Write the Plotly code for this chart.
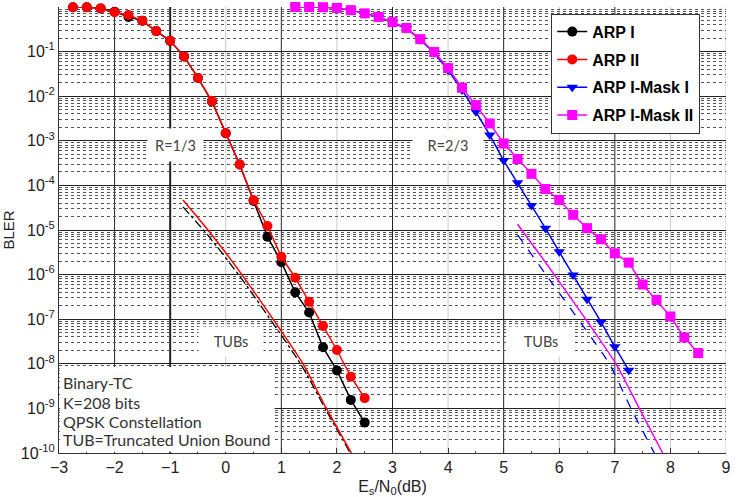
import plotly.graph_objects as go

# ---------------- data ----------------
x_arp = [-2.75, -2.5, -2.25, -2.0, -1.75, -1.5, -1.25, -1.0, -0.75, -0.5, -0.25,
         0.0, 0.25, 0.5, 0.75, 1.0, 1.25, 1.5, 1.75, 2.0, 2.25, 2.5]
bler_arp1 = [0.985, 0.985, 0.93, 0.785, 0.60, 0.49, 0.288, 0.174, 0.078, 0.0257, 7.6e-3,
             1.48e-3, 2.95e-4, 4.47e-5, 7.1e-6, 1.9e-6, 4.0e-7, 1.41e-7, 2.34e-8, 7.1e-9,
             1.55e-9, 4.8e-10]
bler_arp2 = [0.985, 0.985, 0.93, 0.76, 0.66, 0.49, 0.288, 0.174, 0.078, 0.0257, 7.8e-3,
             1.48e-3, 2.95e-4, 4.68e-5, 1.23e-5, 2.51e-6, 8.5e-7, 2.45e-7, 7.08e-8, 2.04e-8,
             5.13e-9, 1.70e-9]

x_mask2 = [1.25, 1.5, 1.75, 2.0, 2.25, 2.5, 2.75, 3.0, 3.25, 3.5, 3.75, 4.0, 4.25, 4.5,
           4.75, 5.0, 5.25, 5.5, 5.75, 6.0, 6.25, 6.5, 6.75, 7.0, 7.25, 7.5, 7.75, 8.0,
           8.25, 8.5]
bler_mask2 = [1.0, 1.0, 0.99, 0.955, 0.85, 0.72, 0.60, 0.457, 0.339, 0.19, 0.098, 0.0427,
              0.0155, 6.3e-3, 2.45e-3, 8.7e-4, 3.9e-4, 1.82e-4, 8.3e-5, 4.7e-5, 2.19e-5,
              1.1e-5, 6.2e-6, 3.0e-6, 1.86e-6, 6.0e-7, 2.7e-7, 1.15e-7, 3.9e-8, 1.74e-8]

x_mask1 = [1.25, 1.5, 1.75, 2.0, 2.25, 2.5, 2.75, 3.0, 3.25, 3.5, 3.75, 4.0, 4.25, 4.5,
           4.75, 5.0, 5.25, 5.5, 5.75, 6.0, 6.25, 6.5, 6.75, 7.0, 7.25]
bler_mask1 = [1.0, 1.0, 0.99, 0.955, 0.85, 0.72, 0.60, 0.45, 0.33, 0.185, 0.093, 0.038,
              0.0138, 4.47e-3, 1.35e-3, 3.6e-4, 1.15e-4, 3.55e-5, 1.1e-5, 3.24e-6, 9.8e-7,
              2.8e-7, 8.7e-8, 2.4e-8, 7.2e-9]

# truncated union bounds
x_tub_arp2 = [-0.77, -0.32, 0.29, 1.39, 1.81, 2.26]
y_tub_arp2 = [4.7e-5, 1.0e-5, 1.0e-6, 1.0e-8, 1.0e-9, 1.0e-10]
x_tub_arp1 = [-0.77, -0.30, 0.30, 1.37, 1.80, 2.24]
y_tub_arp1 = [3.3e-5, 7.1e-6, 7.6e-7, 8.9e-9, 9.3e-10, 1.0e-10]
x_tub_mask2 = [5.25, 5.91, 7.02, 7.44, 7.86]
y_tub_mask2 = [1.35e-5, 1.0e-6, 1.0e-8, 1.0e-9, 1.0e-10]
x_tub_mask1 = [5.25, 5.76, 6.90, 7.29, 7.71]
y_tub_mask1 = [7.8e-6, 1.0e-6, 1.0e-8, 1.0e-9, 1.0e-10]

x_ticks = [-3, -2, -1, 0, 1, 2, 3, 4, 5, 6, 7, 8, 9]
y_tickvals = [1, 1e-1, 1e-2, 1e-3, 1e-4, 1e-5, 1e-6, 1e-7, 1e-8, 1e-9, 1e-10]
y_ticktext = ["10<sup>0</sup>", "10<sup>-1</sup>", "10<sup>-2</sup>", "10<sup>-3</sup>",
              "10<sup>-4</sup>", "10<sup>-5</sup>", "10<sup>-6</sup>", "10<sup>-7</sup>",
              "10<sup>-8</sup>", "10<sup>-9</sup>", "10<sup>-10</sup>"]
info_lines = ["Binary-TC", "K=208 bits", "QPSK Constellation", "TUB=Truncated Union Bound"]

FONT = "Liberation Sans, Arial, sans-serif"
LFONT = "Lato, Open Sans, sans-serif"

fig = go.Figure()

# TUB lines (no legend)
fig.add_trace(go.Scatter(x=x_tub_arp1, y=y_tub_arp1, mode="lines", showlegend=False,
                         line=dict(color="black", width=1.3, dash="dashdot", shape="spline", smoothing=0.6)))
fig.add_trace(go.Scatter(x=x_tub_arp2, y=y_tub_arp2, mode="lines", showlegend=False,
                         line=dict(color="#ff0000", width=1.5, shape="spline", smoothing=0.6)))
fig.add_trace(go.Scatter(x=x_tub_mask1, y=y_tub_mask1, mode="lines", showlegend=False,
                         line=dict(color="#0000ff", width=1.3, dash="dash", shape="spline", smoothing=0.6)))
fig.add_trace(go.Scatter(x=x_tub_mask2, y=y_tub_mask2, mode="lines", showlegend=False,
                         line=dict(color="#ff00ff", width=1.5, shape="spline", smoothing=0.6)))

fig.add_trace(go.Scatter(x=x_arp, y=bler_arp1, mode="lines+markers", name="ARP I",
                         legendgroup="a", cliponaxis=False,
                         line=dict(color="black", width=1.5),
                         marker=dict(symbol="circle", size=10, color="black")))
fig.add_trace(go.Scatter(x=x_arp, y=bler_arp2, mode="lines+markers", name="ARP II",
                         legendgroup="b", cliponaxis=False,
                         line=dict(color="#ff0000", width=1.5),
                         marker=dict(symbol="circle", size=10, color="#ff0000")))
fig.add_trace(go.Scatter(x=x_mask1, y=bler_mask1, mode="lines+markers", name="ARP I-Mask I",
                         legendgroup="c", cliponaxis=False,
                         line=dict(color="#0000ff", width=1.5),
                         marker=dict(symbol="triangle-down", size=10, color="#0000ff")))
fig.add_trace(go.Scatter(x=x_mask2, y=bler_mask2, mode="lines+markers", name="ARP I-Mask II",
                         legendgroup="d", cliponaxis=False,
                         line=dict(color="#ff00ff", width=1.5),
                         marker=dict(symbol="square", size=10, color="#ff00ff")))

# vertical grid lines: odd integers dark, even integers light
shapes = []
for xv in x_ticks[1:-1]:
    dark = (xv % 2 != 0) or xv == -2
    shapes.append(dict(type="line", xref="x", yref="paper", x0=xv, x1=xv, y0=0, y1=1,
                       layer="below",
                       line=dict(color="#222" if dark else "#c8c8c8",
                                 width=2 if xv == -1 else 1)))
shapes.append(dict(type="line", xref="x", yref="paper", x0=9, x1=9, y0=0, y1=1,
                   layer="below", line=dict(color="#c8c8c8", width=1)))
# white box behind the info text
shapes.append(dict(type="rect", xref="x", yref="paper", x0=-2.985, x1=0.88, y0=0.003, y1=0.193,
                   layer="above", fillcolor="white", line=dict(width=0)))

ann_font = dict(family=LFONT, size=14.5, color="#444")
annotations = [
    dict(x=-0.9, y=-3.1, text="R=1/3", showarrow=False, bgcolor="white",
         width=53, height=30, font=ann_font, xref="x", yref="y"),
    dict(x=4.0, y=-3.1, text="R=2/3", showarrow=False, bgcolor="white",
         width=68, height=28, font=ann_font, xref="x", yref="y"),
    dict(x=0.1, y=-7.51, text="TUBs", showarrow=False, bgcolor="white",
         width=62, height=27, font=ann_font, xref="x", yref="y"),
    dict(x=5.68, y=-7.51, text="TUBs", showarrow=False, bgcolor="white",
         width=62, height=27, font=ann_font, xref="x", yref="y"),
]
info_y = [-8.43, -8.87, -9.3, -9.7]
for txt, yv in zip(info_lines, info_y):
    annotations.append(dict(x=-3, y=yv, xanchor="left", xshift=2, text=txt, showarrow=False,
                            font=dict(family=LFONT, size=16, color="#333"),
                            xref="x", yref="y"))

fig.update_layout(
    width=736, height=497,
    margin=dict(l=59, r=10, t=7, b=44),
    paper_bgcolor="white", plot_bgcolor="white",
    font=dict(family=FONT, size=16, color="#222"),
    showlegend=True,
    legend=dict(x=0.738, y=0.985, xanchor="left", yanchor="top",
                bgcolor="white", bordercolor="#333", borderwidth=1,
                font=dict(family=FONT, size=16, color="black", weight="bold"),
                tracegroupgap=4, traceorder="grouped"),
    annotations=annotations,
    shapes=shapes,
)

fig.update_xaxes(
    range=[-3, 9], tickvals=x_ticks, showgrid=False, automargin=False,
    zeroline=False, showline=True, linecolor="#333", linewidth=1,
    ticks="inside", ticklen=5, tickcolor="#333",
    tickfont=dict(family=FONT, size=16, color="#222"),
    minor=dict(dtick=0.5, ticks="inside", ticklen=2, tickcolor="#555", showgrid=False),
    title=dict(text="E<sub>s</sub>/N<sub>0</sub>(dB)", standoff=22,
               font=dict(family=FONT, size=16, color="#222")),
)
fig.update_yaxes(
    type="log", range=[-10, 0], tickvals=y_tickvals, ticktext=y_ticktext, automargin=False,
    showgrid=True, gridcolor="#222", gridwidth=1, zeroline=False,
    showline=True, linecolor="#333", linewidth=1, ticks="inside", ticklen=4, tickcolor="#333",
    tickfont=dict(family=FONT, size=16, color="#222"),
    minor=dict(dtick="D1", showgrid=True, griddash="dot", gridcolor="#555", gridwidth=1,
               ticks="inside", ticklen=3, tickcolor="#555"),
    title=dict(text="BLER", standoff=2, font=dict(family=FONT, size=15, color="#222")),
)

fig.write_html("out.html")
